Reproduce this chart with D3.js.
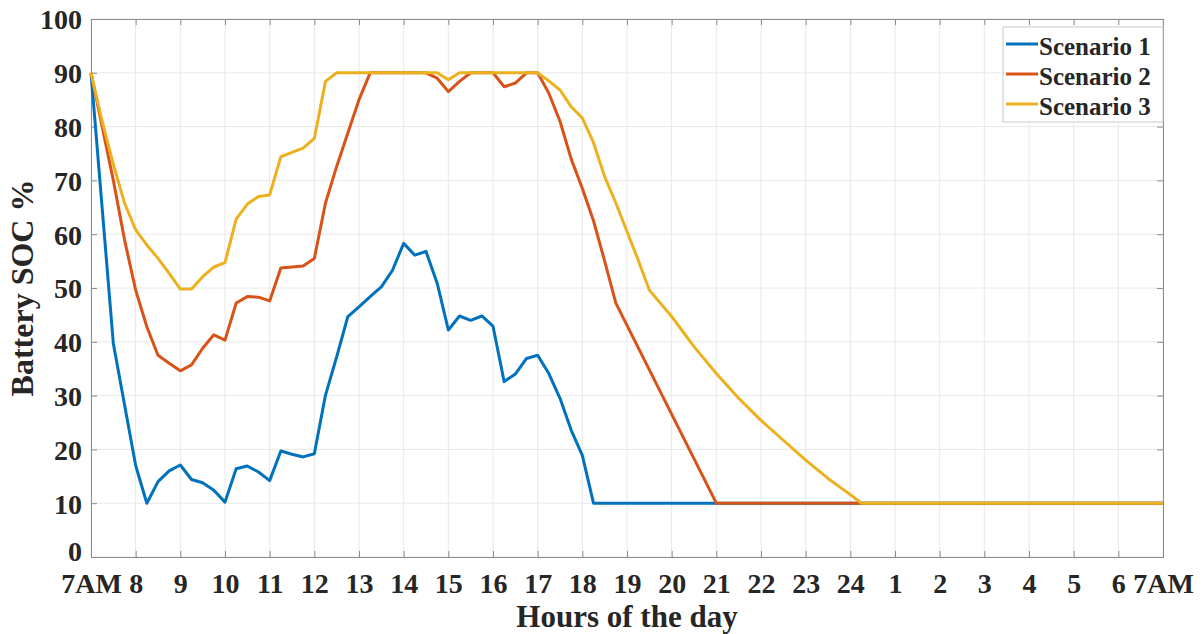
<!DOCTYPE html>
<html>
<head>
<meta charset="utf-8">
<script src="https://d3js.org/d3.v7.min.js"></script>
<style>
  html, body { margin: 0; padding: 0; background: #fff; }
  svg { display: block; }
  text { font-family: "Liberation Serif", "Times New Roman", serif; font-weight: bold; fill: #262626; }
</style>
</head>
<body>
<script>
// Hours are counted from 7AM (0) to 7AM the next day (24).
const seriesNames = ["Scenario 1", "Scenario 2", "Scenario 3"];
const seriesColors = ["#0072BD", "#D95319", "#EDB120"];

const s1Hours = [0, 0.5, 1, 1.25, 1.5, 1.75, 2, 2.25, 2.5, 2.75, 3, 3.25, 3.5, 3.75, 4, 4.25, 4.5, 4.75, 5,
  5.25, 5.5, 5.75, 6, 6.25, 6.5, 6.75, 7, 7.25, 7.5, 7.75, 8, 8.25, 8.5, 8.75, 9, 9.25, 9.5, 9.75, 10,
  10.25, 10.5, 10.75, 11, 11.25, 24];
const s1Soc = [90, 39.7, 17, 10, 14, 16, 17.1, 14.4, 13.8, 12.4, 10.2, 16.4, 16.9, 15.8, 14.2, 19.7, 19.1, 18.6, 19.2,
  30.1, 37.2, 44.7, 46.5, 48.4, 50.2, 53.3, 58.3, 56.1, 56.8, 50.9, 42.2, 44.8, 44.0, 44.8, 42.9, 32.6, 34.0, 36.9, 37.5,
  34.1, 29.5, 23.6, 18.9, 10, 10];

const s2Hours = [0, 0.25, 0.5, 0.75, 1, 1.25, 1.5, 1.75, 2, 2.25, 2.5, 2.75, 3, 3.25, 3.5, 3.75, 4, 4.25, 4.5, 4.75, 5,
  5.25, 5.5, 5.75, 6, 6.25, 7.5, 7.75, 8, 8.25, 8.5, 9, 9.25, 9.5, 9.75, 10, 10.25, 10.5, 10.75, 11, 11.25, 11.5, 11.75,
  14, 24];
const s2Soc = [90, 80, 70, 59, 49.6, 42.8, 37.5, 36, 34.6, 35.7, 38.8, 41.3, 40.3, 47.2, 48.4, 48.3, 47.6, 53.7, 53.9, 54.1, 55.5,
  65.8, 72.6, 78.8, 85.0, 90, 90, 89, 86.5, 88.4, 90, 90, 87.4, 88.1, 90, 90, 86.2, 81.0, 74.0, 68.5, 62.5, 55, 47.2,
  10, 10];

const s3Hours = [0, 0.25, 0.5, 0.75, 1, 1.25, 1.5, 1.75, 2, 2.25, 2.5, 2.75, 3, 3.25, 3.5, 3.75, 4, 4.25, 4.5, 4.75, 5,
  5.25, 5.5, 7.75, 8, 8.25, 10, 10.25, 10.5, 10.75, 11, 11.25, 11.5, 11.75, 12, 12.25, 12.5, 13, 13.5, 14, 14.5, 15,
  15.5, 16, 16.5, 17, 17.25, 24];
const s3Soc = [90, 81, 73, 65.8, 60.8, 58.0, 55.5, 52.7, 49.8, 49.8, 52.1, 53.9, 54.7, 62.8, 65.6, 67.0, 67.3, 74.4, 75.2, 76.0, 77.8,
  88.4, 90, 90, 88.7, 90, 90, 88.5, 86.8, 83.7, 81.6, 77, 70.7, 65.8, 60.5, 55.2, 49.6, 44.7, 39.1, 34.1, 29.5, 25.4,
  21.7, 18.0, 14.6, 11.6, 10, 10];

const xTickValues = d3.range(0, 25);
const xTickLabels = ["7AM", "8", "9", "10", "11", "12", "13", "14", "15", "16", "17", "18", "19", "20", "21", "22",
  "23", "24", "1", "2", "3", "4", "5", "6", "7AM"];
const yTickValues = d3.range(0, 101, 10);

const W = 1203, H = 634;
const margin = { left: 91, right: 40, top: 19, bottom: 77 };
const iw = W - margin.left - margin.right;
const ih = H - margin.top - margin.bottom;

const svg = d3.select("body").append("svg").attr("width", W).attr("height", H);
const g = svg.append("g").attr("transform", `translate(${margin.left},${margin.top})`);

const x = d3.scaleLinear().domain([0, 24]).range([0, iw]);
const y = d3.scaleLinear().domain([0, 100]).range([ih, 0]);

// grid
g.append("g").selectAll("line").data(xTickValues).join("line")
  .attr("x1", d => x(d)).attr("x2", d => x(d)).attr("y1", 0).attr("y2", ih)
  .attr("stroke", "#e8e8e8").attr("stroke-width", 1);
g.append("g").selectAll("line").data(yTickValues).join("line")
  .attr("x1", 0).attr("x2", iw).attr("y1", d => y(d)).attr("y2", d => y(d))
  .attr("stroke", "#e8e8e8").attr("stroke-width", 1);

// axes (inward ticks on all four sides)
const xAxis = d3.axisBottom(x).tickValues(xTickValues).tickSize(-6).tickFormat((d, i) => xTickLabels[i]);
const yAxis = d3.axisLeft(y).tickValues(yTickValues).tickSize(-6).tickFormat(d3.format("d"));
const xTop = d3.axisTop(x).tickValues(xTickValues).tickSize(-6).tickFormat("");
const yRight = d3.axisRight(y).tickValues(yTickValues).tickSize(-6).tickFormat("");

const gx = g.append("g").attr("transform", `translate(0,${ih})`).call(xAxis);
const gy = g.append("g").call(yAxis);
g.append("g").call(xTop);
g.append("g").attr("transform", `translate(${iw},0)`).call(yRight);

g.selectAll(".domain").attr("stroke", "#8c8c8c");
g.selectAll(".tick line").attr("stroke", "#8c8c8c");

gx.selectAll(".tick text").attr("y", 0).attr("dy", null)
  .attr("transform", "translate(0,36)")
  .style("font-size", "28px").style("font-family", "'Liberation Serif', serif").style("font-weight", "bold")
  .attr("fill", "#262626");
gy.selectAll(".tick text").attr("x", -9).attr("dy", "0.35em")
  .style("font-size", "28px").style("font-family", "'Liberation Serif', serif").style("font-weight", "bold")
  .attr("fill", "#262626");
// lift the bottom "0" a little so it clears the first hour label
gy.selectAll(".tick text").filter(d => d === 0).attr("dy", "0.12em");

// series lines
const line = d3.line().x(d => x(d[0])).y(d => y(d[1]));
const series = [
  d3.zip(s1Hours, s1Soc),
  d3.zip(s2Hours, s2Soc),
  d3.zip(s3Hours, s3Soc)
];
g.append("g").selectAll("path").data(series).join("path")
  .attr("d", line)
  .attr("fill", "none")
  .attr("stroke", (d, i) => seriesColors[i])
  .attr("stroke-width", 3)
  .attr("stroke-linejoin", "round");

// axis titles
svg.append("text")
  .attr("x", margin.left + iw / 2).attr("y", 627)
  .attr("text-anchor", "middle")
  .style("font-size", "31px")
  .text("Hours of the day");
svg.append("text")
  .attr("transform", `translate(33,${margin.top + ih / 2}) rotate(-90)`)
  .attr("text-anchor", "middle")
  .style("font-size", "32px")
  .text("Battery SOC %");

// legend
const lg = svg.append("g").attr("transform", "translate(1003,27)");
lg.append("rect").attr("width", 160).attr("height", 95)
  .attr("fill", "#fff").attr("stroke", "#c8c8c8").attr("stroke-width", 1);
const rows = lg.selectAll("g.row").data(seriesNames).join("g")
  .attr("class", "row")
  .attr("transform", (d, i) => `translate(0,${17 + i * 30})`);
rows.append("line").attr("x1", 3).attr("x2", 35).attr("y1", 0).attr("y2", 0)
  .attr("stroke", (d, i) => seriesColors[i]).attr("stroke-width", 3);
rows.append("text").attr("x", 36).attr("y", 11)
  .style("font-size", "25px")
  .text(d => d);
</script>
</body>
</html>
